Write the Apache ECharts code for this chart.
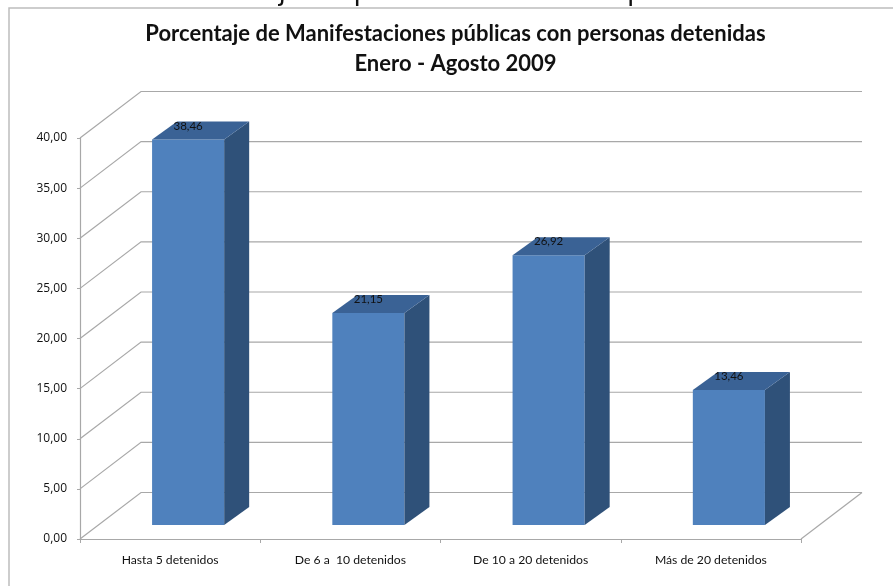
<!DOCTYPE html>
<html><head><meta charset="utf-8">
<style>html,body{margin:0;padding:0;background:#fff}#c{width:893px;height:586px}</style>
<script src="https://cdn.jsdelivr.net/npm/echarts@6/dist/echarts.min.js"></script>
</head><body><div id="c"></div>
<script>
const categories = ['Hasta 5 detenidos', 'De 6 a  10 detenidos', 'De 10 a 20 detenidos', 'Más de 20 detenidos'];
const values = [38.46, 21.15, 26.92, 13.46];
const valueTicks = [0, 5, 10, 15, 20, 25, 30, 35, 40];
const titleLines = ['Porcentaje de Manifestaciones públicas con personas detenidas', 'Enero - Agosto 2009'];
const clippedHeading = 'Gráfico 5: Porcentaje de personas detenidas por manifestación';

const comma = v => v.toFixed(2).replace('.', ',');
const DX = 61, DY = 46.5, GRID = '#a8a8a8';
const chart = echarts.init(document.getElementById('c'));

function renderWall(params, api) {
  const v = api.value(0);
  const a = api.coord([0, v]);
  const cs = params.coordSys;
  const x0 = cs.x, x1 = cs.x + cs.width, y = a[1];
  const style = { stroke: GRID, lineWidth: 1.2, fill: null };
  return { type: 'polyline', silent: true, shape: { points: [[x0, y], [x0 + DX, y - DY], [x1 + DX, y - DY]] }, style };
}
function renderFloorEdge(params, api) {
  const cs = params.coordSys;
  const y = api.coord([0, 0])[1], x1 = cs.x + cs.width;
  return { type: 'line', silent: true, shape: { x1: x1, y1: y, x2: x1 + DX, y2: y - DY }, style: { stroke: GRID, lineWidth: 1.2 } };
}
function renderBar(params, api) {
  const i = api.value(0), v = api.value(1);
  const top = api.coord([i, v]), base = api.coord([i, 0]);
  const band = api.size([1, 0])[0];
  const w = band * 0.4;
  const ox = 18, oy = 14, dx = 25, dy = 18;
  const xl = base[0] + ox - w / 2, xr = xl + w, yb = base[1] - oy, yt = top[1] - oy;
  return { type: 'group', children: [
    { type: 'rect', shape: { x: xl, y: yt, width: w, height: yb - yt }, style: { fill: '#4f81bd' } },
    { type: 'polygon', shape: { points: [[xr, yt], [xr + dx, yt - dy], [xr + dx, yb - dy], [xr, yb]] }, style: { fill: '#2f5179' } },
    { type: 'polygon', shape: { points: [[xl, yt], [xl + dx, yt - dy], [xr + dx, yt - dy], [xr, yt]] }, style: { fill: '#3a6295' } },
    { type: 'text', style: { x: xl + w / 2, y: yt - 13.5, text: comma(v), align: 'center', verticalAlign: 'middle', fill: '#111', font: '11.5px Lato' } }
  ]};
}

chart.setOption({
  animation: false,
  backgroundColor: '#fff',
  title: {
    text: titleLines.join('\n'), left: 450.5, top: 14, textAlign: 'center',
    textStyle: { fontFamily: 'Lato', fontWeight: 'bold', fontSize: 22, lineHeight: 30, color: '#111' }
  },
  graphic: [
    { type: 'polyline', silent: true, shape: { points: [[9, 586], [9, 8], [893, 8]] }, style: { stroke: '#bdbdbd', lineWidth: 1.5, fill: null } },
    { type: 'text', silent: true, x: 20, y: 6.5, style: { text: clippedHeading, fill: '#111', font: '27px "DejaVu Sans"', verticalAlign: 'bottom' } }
  ],
  grid: { left: 80, top: 138, width: 721, height: 401 },
  xAxis: {
    type: 'category', data: categories,
    axisLine: { show: true, lineStyle: { color: GRID, width: 1.2 } },
    axisTick: { show: true, length: 4, lineStyle: { color: GRID } },
    axisLabel: { fontFamily: 'Lato', fontSize: 12.2, color: '#111', margin: 15 }
  },
  yAxis: {
    type: 'value', min: 0, max: 40, interval: 5,
    axisLine: { show: true, lineStyle: { color: GRID, width: 1.2 } },
    axisTick: { show: true, length: 3, lineStyle: { color: GRID } },
    splitLine: { show: false },
    axisLabel: { fontFamily: 'Open Sans', fontSize: 12, color: '#111', margin: 13, padding: [7, 0, 0, 0], formatter: comma }
  },
  series: [
    { type: 'custom', name: 'paredes', coordinateSystem: 'cartesian2d', renderItem: renderWall, data: valueTicks.map(v => [v]), encode: { y: 0 }, silent: true, z: 1 },
    { type: 'custom', name: 'suelo', coordinateSystem: 'cartesian2d', renderItem: renderFloorEdge, data: [[0]], encode: { y: 0 }, silent: true, z: 1 },
    { type: 'custom', name: 'Porcentaje', coordinateSystem: 'cartesian2d', renderItem: renderBar, data: values.map((v, i) => [i, v]), encode: { x: 0, y: 1 }, z: 2 }
  ]
});
</script></body></html>
